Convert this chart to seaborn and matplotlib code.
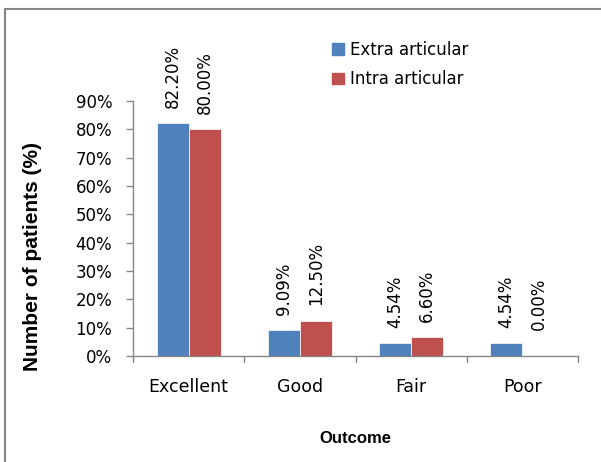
import pandas as pd
import matplotlib.pyplot as plt
import seaborn as sns
from matplotlib.lines import Line2D
from matplotlib.patches import Patch

# outcome data (percent of patients)
outcomes = ["Excellent", "Good", "Fair", "Poor"]
extra_articular = [82.20, 9.09, 4.54, 4.54]
intra_articular = [80.00, 12.50, 6.60, 0.00]
groups = ["Extra articular", "Intra articular"]
colors = ["#4F81BD", "#C0504D"]

df = pd.DataFrame({
    "Outcome": outcomes * 2,
    "Value": extra_articular + intra_articular,
    "Group": [groups[0]] * 4 + [groups[1]] * 4,
})

sns.set_style("white")
plt.rcParams["font.family"] = ["DejaVu Sans"]
plt.rcParams["text.color"] = "black"
plt.rcParams["axes.labelcolor"] = "black"
axis_grey = "#868686"

fig = plt.figure(figsize=(6.01, 4.62), dpi=100)
ax = fig.add_axes([133 / 601, 106 / 462, 445 / 601, 255 / 462])

sns.barplot(data=df, x="Outcome", y="Value", hue="Group", palette=colors,
            saturation=1, width=0.577, gap=0, ax=ax, edgecolor="white",
            linewidth=0.5, legend=False)

for cont in ax.containers:
    labels = ax.bar_label(cont, fmt="%.2f%%", rotation=90, padding=11, fontsize=12,
                          color="black")
    for bar, lab in zip(cont, labels):
        if bar.get_height() == 0:
            lab.xyann = (0, 19)

ax.set_ylim(0, 90)
ax.set_xlim(-0.5, 3.5)
ax.set_yticks(range(0, 91, 10))
ax.set_yticklabels([f"{v}%" for v in range(0, 91, 10)], fontsize=12)
ax.tick_params(axis="x", labelsize=12.5, length=0, pad=16, labelcolor="black")
ax.tick_params(axis="y", length=5, width=1, color=axis_grey, left=True, pad=10,
               labelcolor="black")

# category separator ticks on the x axis
for xb in [-0.5, 0.5, 1.5, 2.5, 3.5]:
    ax.plot([xb, xb], [0, -0.025], transform=ax.get_xaxis_transform(),
            color=axis_grey, lw=1, clip_on=False)

for side in ["top", "right"]:
    ax.spines[side].set_visible(False)
for side in ["left", "bottom"]:
    ax.spines[side].set_color(axis_grey)
    ax.spines[side].set_linewidth(1)

ax.set_xlabel("Outcome", fontsize=12, fontweight="bold", family="Liberation Sans")
ax.xaxis.set_label_coords(0.5, -0.294)
ax.set_ylabel("Number of patients (%)", fontsize=15, fontweight="bold",
              family="Liberation Sans")
ax.yaxis.set_label_coords(-0.205, 0.392)

handles = [Patch(color=c) for c in colors]
ax.legend(handles, groups, loc="upper left", bbox_to_anchor=(332 / 601, 1 - 41 / 462),
          bbox_transform=fig.transFigure, frameon=False, fontsize=12,
          handlelength=0.72, handleheight=0.72, handletextpad=0.36,
          labelspacing=0.68, borderaxespad=0, borderpad=0)

# outer chart border (left and top visible)
fig.add_artist(Line2D([5 / 601, 5 / 601], [0, 1 - 9 / 462], transform=fig.transFigure,
                      color=axis_grey, lw=1.5))
fig.add_artist(Line2D([5 / 601, 1], [1 - 9 / 462, 1 - 9 / 462], transform=fig.transFigure,
                      color=axis_grey, lw=1.5))

fig.savefig("out.png", dpi=100)
